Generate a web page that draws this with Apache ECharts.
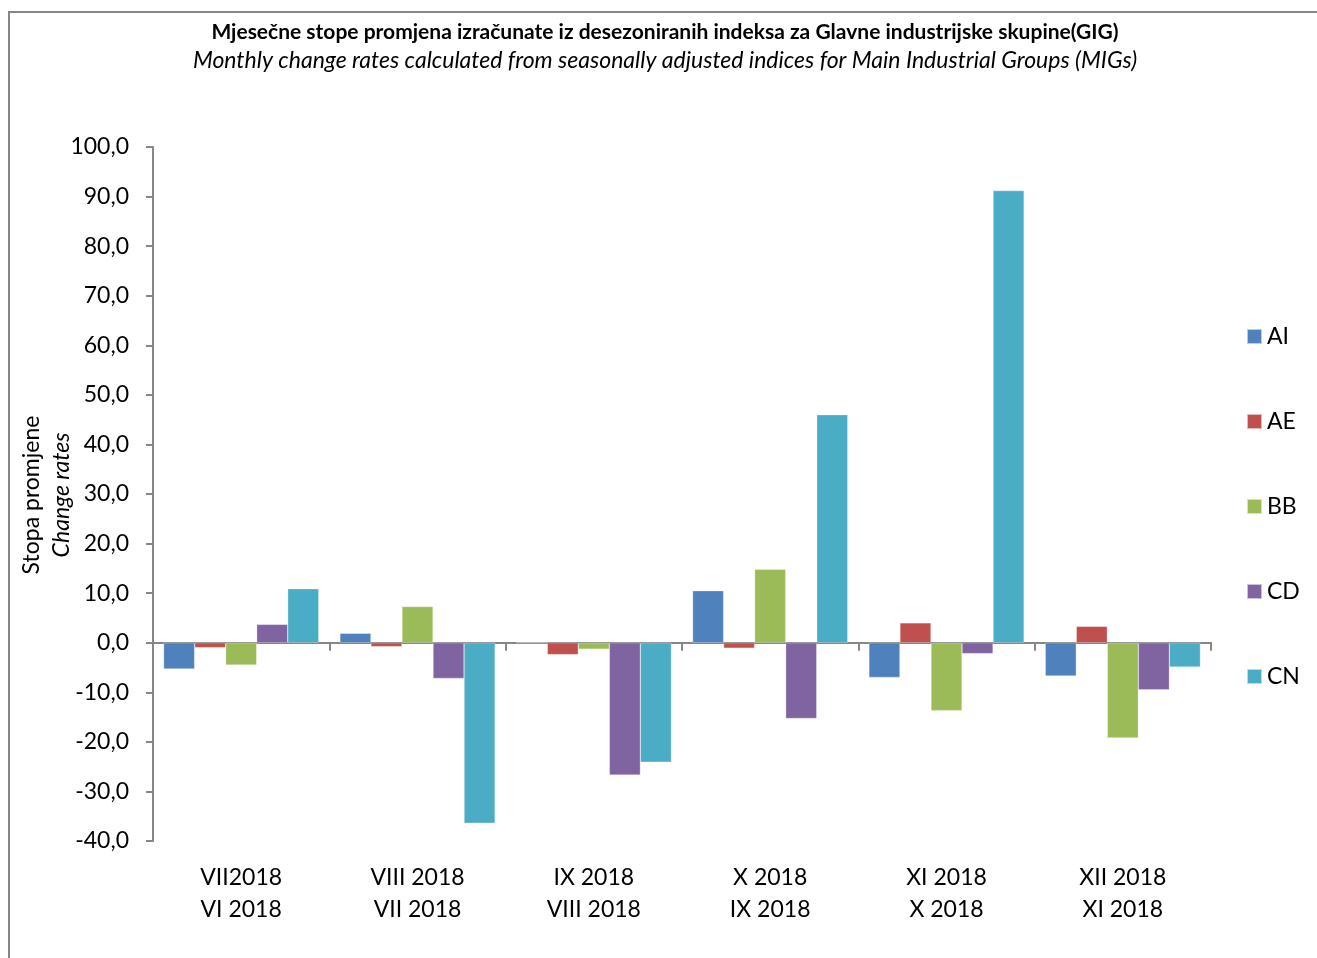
<!DOCTYPE html>
<html>
<head>
<meta charset="utf-8">
<script src="https://cdn.jsdelivr.net/npm/echarts@6/dist/echarts.min.js"></script>
<style>
  html, body { margin: 0; padding: 0; background: #fff; }
  #container { width: 1317px; height: 958px; }
</style>
</head>
<body>
<div id="container"></div>
<script>
    // kategorije (dva reda: tekući / prethodni mjesec)
    var categories = ['VII2018\nVI 2018', 'VIII 2018\nVII 2018', 'IX 2018\nVIII 2018', 'X 2018\nIX 2018', 'XI 2018\nX 2018', 'XII 2018\nXI 2018'];
    var seriesNames = ['AI', 'AE', 'BB', 'CD', 'CN'];
    var colors = ['#4F81BD', '#C0504D', '#9BBB59', '#8064A2', '#4BACC6'];

    // vrijednosti po GIG
    var AI = [-5.3, 1.9, 0.0, 10.5, -7.0, -6.7];
    var AE = [-1.0, -0.8, -2.4, -1.1, 4.0, 3.3];
    var BB = [-4.5, 7.3, -1.3, 14.8, -13.7, -19.2];
    var CD = [3.7, -7.2, -26.7, -15.3, -2.2, -9.5];
    var CN = [10.9, -36.4, -24.1, 46.0, 91.2, -4.9];
    var values = [AI, AE, BB, CD, CN];

    var font = 'Lato, "Open Sans", sans-serif';
    var axisColor = '#868686';

    var series = seriesNames.map(function (name, i) {
        return {
            name: name,
            type: 'bar',
            xAxisIndex: 0,
            barGap: '0%',
            barCategoryGap: '12%',
            itemStyle: { color: colors[i], borderColor: 'rgba(255,255,255,0.6)', borderWidth: 0.5 },
            data: values[i]
        };
    });

    var option = {
        animation: false,
        backgroundColor: '#fff',
        textStyle: { fontFamily: font },
        title: [
            {
                text: 'Mjesečne stope promjena izračunate iz desezoniranih indeksa za Glavne industrijske skupine(GIG)',
                left: 660, top: 17, textAlign: 'center',
                textStyle: { fontFamily: font, fontSize: 21, fontWeight: 'bold', color: '#000' }
            },
            {
                text: 'Monthly change rates calculated from seasonally adjusted indices for Main Industrial Groups (MIGs)',
                left: 660, top: 44, textAlign: 'center',
                textStyle: { fontFamily: font, fontSize: 23, fontStyle: 'italic', fontWeight: 'normal', color: '#000' }
            }
        ],
        legend: {
            orient: 'vertical',
            left: 1241, top: 320,
            itemWidth: 15, itemHeight: 15,
            itemGap: 62,
            icon: 'rect',
            textStyle: { fontFamily: font, fontSize: 23, color: '#000', padding: [0, 0, 0, 0] },
            data: seriesNames
        },
        graphic: [
            {
                type: 'rect', silent: true,
                shape: { x: 9, y: 12, width: 1400, height: 1000 },
                style: { fill: 'none', stroke: axisColor, lineWidth: 2 }
            },
            {
                type: 'text', silent: true,
                x: 32, y: 495, rotation: Math.PI / 2,
                style: { text: 'Stopa promjene', font: '23px ' + font, fill: '#000', align: 'center', verticalAlign: 'middle' }
            },
            {
                type: 'text', silent: true,
                x: 62, y: 495, rotation: Math.PI / 2,
                style: { text: 'Change rates', font: 'italic 23px ' + font, fill: '#000', align: 'center', verticalAlign: 'middle' }
            }
        ],
        grid: { left: 153, right: 106, top: 147, bottom: 117, containLabel: false },
        xAxis: [
            {
                type: 'category',
                data: categories,
                position: 'bottom',
                axisLine: { show: false, onZero: false },
                axisTick: { show: false },
                axisLabel: { fontFamily: font, fontSize: 23, color: '#000', lineHeight: 32, margin: 21 }
            },
            {
                type: 'category',
                data: categories,
                position: 'top',
                axisLine: { show: true, onZero: true, lineStyle: { color: axisColor, width: 2 } },
                axisTick: { show: true, inside: true, length: 8, lineStyle: { color: axisColor, width: 2 } },
                axisLabel: { show: false }
            }
        ],
        yAxis: {
            type: 'value',
            min: -40, max: 100, interval: 10,
            axisLine: { show: true, lineStyle: { color: axisColor, width: 2 } },
            axisTick: { show: true, length: 7, lineStyle: { color: axisColor, width: 2 } },
            splitLine: { show: false },
            axisLabel: {
                fontFamily: font, fontSize: 23, color: '#000', margin: 24,
                formatter: function (v) { return v.toFixed(1).replace('.', ','); }
            }
        },
        series: series
    };

    var myChart = echarts.init(document.getElementById('container'));
    myChart.setOption(option);
</script>
</body>
</html>
